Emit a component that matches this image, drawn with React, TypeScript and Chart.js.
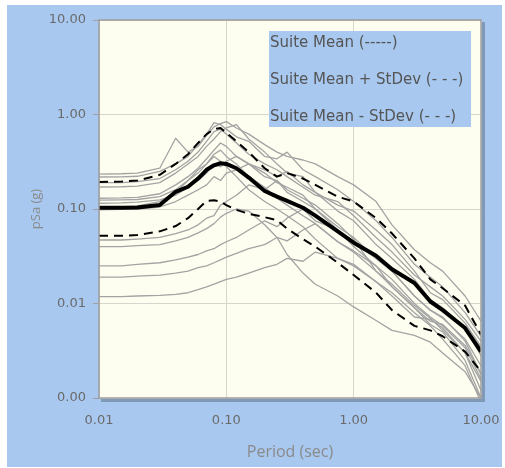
import React, { useEffect, useRef } from "react";
import { Chart, registerables } from "chart.js";

Chart.register(...registerables);

// ---------- data ----------
const PERIODS = [0.01, 0.015, 0.02, 0.03, 0.04, 0.05, 0.06, 0.07, 0.08, 0.09, 0.1, 0.12, 0.15, 0.2, 0.25, 0.3, 0.4, 0.5, 0.75, 1, 1.5, 2, 3, 4, 5, 7.5, 10];

const SUITE_MEAN = [0.103, 0.103, 0.104, 0.11, 0.152, 0.172, 0.21, 0.26, 0.29, 0.305, 0.3, 0.27, 0.215, 0.155, 0.135, 0.122, 0.103, 0.085, 0.058, 0.044, 0.032, 0.023, 0.0165, 0.0105, 0.0085, 0.0055, 0.0031];
const MEAN_PLUS_SD = [0.193, 0.195, 0.2, 0.23, 0.3, 0.38, 0.5, 0.62, 0.7, 0.72, 0.64, 0.52, 0.4, 0.27, 0.22, 0.24, 0.21, 0.18, 0.135, 0.12, 0.08, 0.055, 0.03, 0.018, 0.0145, 0.0095, 0.0047];
const MEAN_MINUS_SD = [0.052, 0.052, 0.053, 0.058, 0.066, 0.08, 0.1, 0.122, 0.124, 0.12, 0.11, 0.098, 0.089, 0.082, 0.076, 0.062, 0.048, 0.04, 0.027, 0.02, 0.013, 0.0085, 0.0058, 0.0052, 0.0045, 0.0031, 0.0019];

const REC_01 = [0.234, 0.236, 0.24, 0.27, 0.56, 0.4, 0.46, 0.6, 0.74, 0.8, 0.84, 0.72, 0.62, 0.48, 0.4, 0.36, 0.33, 0.3, 0.22, 0.18, 0.12, 0.068, 0.037, 0.027, 0.022, 0.012, 0.0065];
const REC_02 = [0.218, 0.219, 0.222, 0.25, 0.3, 0.36, 0.48, 0.62, 0.82, 0.78, 0.7, 0.58, 0.52, 0.36, 0.34, 0.4, 0.26, 0.22, 0.16, 0.12, 0.075, 0.05, 0.026, 0.019, 0.015, 0.008, 0.0045];
const REC_03 = [0.171, 0.172, 0.175, 0.19, 0.24, 0.3, 0.36, 0.46, 0.55, 0.66, 0.72, 0.78, 0.55, 0.4, 0.3, 0.24, 0.22, 0.15, 0.11, 0.095, 0.06, 0.042, 0.022, 0.013, 0.011, 0.0062, 0.0035];
const REC_04 = [0.13, 0.131, 0.133, 0.145, 0.18, 0.22, 0.27, 0.34, 0.42, 0.5, 0.46, 0.36, 0.3, 0.24, 0.19, 0.17, 0.14, 0.1, 0.065, 0.05, 0.03, 0.022, 0.012, 0.0085, 0.007, 0.0042, 0.0022];
const REC_05 = [0.124, 0.125, 0.126, 0.135, 0.16, 0.2, 0.26, 0.3, 0.38, 0.42, 0.36, 0.3, 0.22, 0.17, 0.13, 0.11, 0.085, 0.07, 0.045, 0.036, 0.025, 0.015, 0.009, 0.0065, 0.006, 0.0036, 0.0018];
const REC_06 = [0.115, 0.116, 0.118, 0.125, 0.14, 0.17, 0.2, 0.24, 0.3, 0.28, 0.32, 0.36, 0.3, 0.26, 0.22, 0.25, 0.18, 0.15, 0.095, 0.075, 0.042, 0.03, 0.018, 0.011, 0.009, 0.0055, 0.0028];
const REC_07 = [0.098, 0.099, 0.1, 0.105, 0.12, 0.14, 0.16, 0.18, 0.22, 0.2, 0.24, 0.26, 0.3, 0.22, 0.2, 0.16, 0.13, 0.11, 0.07, 0.048, 0.022, 0.016, 0.0095, 0.007, 0.0052, 0.003, 0.0012];
const REC_08 = [0.105, 0.106, 0.108, 0.12, 0.15, 0.2, 0.24, 0.3, 0.36, 0.32, 0.28, 0.22, 0.16, 0.12, 0.1, 0.085, 0.065, 0.048, 0.03, 0.026, 0.017, 0.012, 0.0072, 0.0068, 0.0055, 0.003, 0.0015];
const REC_09 = [0.047, 0.047, 0.048, 0.05, 0.055, 0.06, 0.068, 0.08, 0.085, 0.11, 0.12, 0.14, 0.18, 0.16, 0.2, 0.15, 0.12, 0.1, 0.06, 0.045, 0.03, 0.022, 0.012, 0.0085, 0.0072, 0.004, 0.0018];
const REC_10 = [0.04, 0.04, 0.041, 0.042, 0.046, 0.05, 0.056, 0.062, 0.07, 0.082, 0.09, 0.1, 0.095, 0.068, 0.05, 0.033, 0.021, 0.016, 0.012, 0.0092, 0.0066, 0.0052, 0.0046, 0.0039, 0.003, 0.0019, 0.001];
const REC_11 = [0.025, 0.025, 0.026, 0.027, 0.029, 0.031, 0.033, 0.036, 0.038, 0.042, 0.045, 0.05, 0.06, 0.075, 0.065, 0.08, 0.1, 0.075, 0.06, 0.04, 0.025, 0.018, 0.01, 0.0072, 0.0058, 0.0034, 0.0016];
const REC_12 = [0.019, 0.019, 0.0195, 0.02, 0.021, 0.022, 0.024, 0.025, 0.027, 0.029, 0.031, 0.034, 0.038, 0.042, 0.05, 0.046, 0.06, 0.07, 0.045, 0.035, 0.022, 0.015, 0.009, 0.006, 0.005, 0.0025, 0.001];
const REC_13 = [0.0118, 0.0118, 0.012, 0.0122, 0.0125, 0.013, 0.014, 0.015, 0.016, 0.017, 0.018, 0.019, 0.021, 0.024, 0.026, 0.03, 0.028, 0.035, 0.03, 0.025, 0.017, 0.013, 0.008, 0.0058, 0.0042, 0.0022, 0.0009];
const REC_14 = [0.19, 0.19, 0.195, 0.21, 0.26, 0.32, 0.4, 0.52, 0.66, 0.7, 0.62, 0.5, 0.38, 0.3, 0.26, 0.22, 0.17, 0.14, 0.12, 0.085, 0.05, 0.035, 0.02, 0.015, 0.012, 0.0068, 0.004];

const RECORDS = [REC_01, REC_02, REC_03, REC_04, REC_05, REC_06, REC_07, REC_08, REC_09, REC_10, REC_11, REC_12, REC_13, REC_14];

const X_TICKS = [0.01, 0.1, 1, 10];
const X_TICK_LABELS = ["0.01", "0.10", "1.00", "10.00"];
const Y_TICKS = [0.001, 0.01, 0.1, 1, 10];
const Y_TICK_LABELS = ["0.00", "0.01", "0.10", "1.00", "10.00"];

const LEGEND_TEXTS = ["Suite Mean (-----)", "Suite Mean + StDev (- - -)", "Suite Mean - StDev (- - -)"];
const X_TITLE = "Period (sec)";
const Y_TITLE = "pSa (g)";

// ---------- styles ----------
const BLUE = "#A8C8EF";
const IVORY = "#FEFEF0";
const W = 495;
const H = 462;

const toPts = (vals: number[]) => PERIODS.map((p, i) => ({ x: p, y: vals[i] }));

const framePlugin = {
  id: "frame",
  beforeDraw(chart: any) {
    const { ctx, chartArea: a } = chart;
    ctx.save();
    ctx.fillStyle = "rgba(80,95,120,0.45)";
    ctx.fillRect(a.left + 2, a.top + 2, a.right - a.left + 2, a.bottom - a.top + 2);
    ctx.fillStyle = IVORY;
    ctx.fillRect(a.left, a.top, a.right - a.left, a.bottom - a.top);
    ctx.restore();
  },
  afterDatasetsDraw(chart: any) {
    const { ctx, chartArea: a } = chart;
    ctx.save();
    ctx.strokeStyle = "#9c9c9c";
    ctx.lineWidth = 1.5;
    ctx.strokeRect(a.left, a.top, a.right - a.left, a.bottom - a.top);
    // legend box
    const bx = a.left + 170;
    const by = a.top + 11;
    ctx.fillStyle = BLUE;
    ctx.fillRect(bx, by, 202, 96);
    ctx.fillStyle = "#555555";
    ctx.font = "15px 'DejaVu Sans'";
    ctx.textBaseline = "middle";
    ctx.textAlign = "left";
    const ys = [by + 12, by + 49, by + 86];
    LEGEND_TEXTS.forEach((t, i) => ctx.fillText(t, bx + 1, ys[i]));
    ctx.restore();
  },
};

export default function App() {
  const ref = useRef<HTMLCanvasElement | null>(null);
  useEffect(() => {
    if (!ref.current) return;
    const datasets: any[] = [
      {
        label: "Suite Mean",
        data: toPts(SUITE_MEAN),
        borderColor: "#000000",
        borderWidth: 4,
        order: 0,
      },
      {
        label: "Suite Mean + StDev",
        data: toPts(MEAN_PLUS_SD),
        borderColor: "#000000",
        borderWidth: 2,
        borderDash: [9, 6],
        order: 1,
      },
      {
        label: "Suite Mean - StDev",
        data: toPts(MEAN_MINUS_SD),
        borderColor: "#000000",
        borderWidth: 2,
        borderDash: [9, 6],
        order: 2,
      },
      ...RECORDS.map((r, i) => ({
        label: "Record " + (i + 1),
        data: toPts(r),
        borderColor: "#a3a3a3",
        borderWidth: 1.3,
        order: 10 + i,
      })),
    ];
    const chart = new Chart(ref.current, {
      type: "line",
      data: { datasets },
      plugins: [framePlugin],
      options: {
        animation: false,
        responsive: false,
        devicePixelRatio: 1,
        layout: { padding: { left: 0, top: 15, right: 21, bottom: 0 } },
        elements: {
          point: { radius: 0 },
          line: { tension: 0, fill: false, borderJoinStyle: "round" },
        },
        plugins: {
          legend: { display: false },
          tooltip: { enabled: false },
          title: { display: false },
        },
        scales: {
          x: {
            type: "logarithmic",
            min: 0.01,
            max: 10,
            afterBuildTicks: (s: any) => {
              s.ticks = X_TICKS.map((v) => ({ value: v }));
            },
            afterFit: (s: any) => {
              s.height = 69;
              s.paddingLeft = 0;
              s.paddingRight = 0;
            },
            border: { display: false },
            grid: { color: "#d6d6cc", lineWidth: 1, drawTicks: false },
            ticks: {
              autoSkip: false,
              maxRotation: 0,
              padding: 15,
              color: "#6a6a6a",
              font: { family: "'DejaVu Sans'", size: 13 },
              callback: (_v: any, i: number) => X_TICK_LABELS[i],
            },
            title: {
              display: true,
              text: X_TITLE,
              color: "#8a8a8a",
              font: { family: "'Open Sans'", size: 16 },
              padding: { top: 0, bottom: 5 },
            },
          },
          y: {
            type: "logarithmic",
            min: 0.001,
            max: 10,
            afterBuildTicks: (s: any) => {
              s.ticks = Y_TICKS.map((v) => ({ value: v }));
            },
            afterFit: (s: any) => {
              s.width = 92;
              s.paddingTop = 0;
              s.paddingBottom = 0;
            },
            border: { display: false },
            grid: { color: "#d6d6cc", lineWidth: 1, drawTicks: true, tickLength: 6, tickColor: "#a0a0a0" },
            ticks: {
              autoSkip: false,
              padding: 7,
              color: "#6a6a6a",
              font: { family: "'DejaVu Sans'", size: 13 },
              callback: (_v: any, i: number) => Y_TICK_LABELS[i],
            },
            title: {
              display: true,
              text: Y_TITLE,
              color: "#8a8a8a",
              font: { family: "'Open Sans'", size: 13 },
              padding: { top: 21, bottom: 0 },
            },
          },
        },
      } as any,
    });
    return () => chart.destroy();
  }, []);

  return (
    <div
      style={{
        position: "absolute",
        left: 7,
        top: 5,
        width: W,
        height: H,
        background: BLUE,
      }}
    >
      <canvas ref={ref} width={W} height={H} style={{ display: "block", width: W, height: H }} />
    </div>
  );
}
